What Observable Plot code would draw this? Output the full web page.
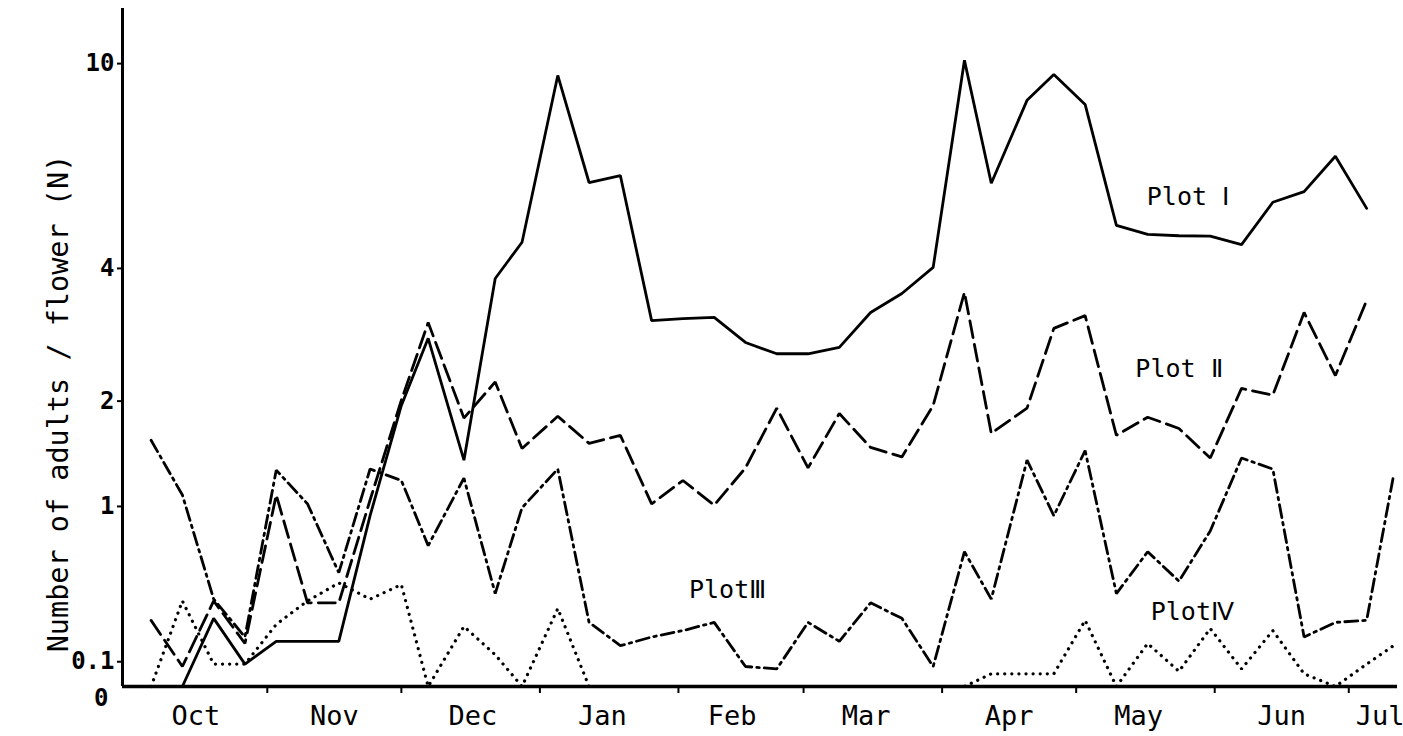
<!DOCTYPE html>
<html>
<head>
<meta charset="utf-8">
<script src="https://cdn.jsdelivr.net/npm/d3@7"></script>
<script src="https://cdn.jsdelivr.net/npm/@observablehq/plot@0.6"></script>
<style>
  html, body { margin: 0; padding: 0; background: #fff; }
  #chart { width: 1403px; height: 736px; overflow: hidden; }
</style>
</head>
<body>
<div id="chart"></div>
<script>
// Sampling days (days counted from 1 October), one per weekly census
const sampleDays = [5,12,19,26,33,40,47,54,61,67,75,82,88,96,103,110,117,124,131,138,145,152,159,166,173,180,187,193,201,207,214,221,228,235,242,249,256,263,270,277,283];

// Number of adults per flower (N) for each plot, aligned with sampleDays (null = no sample)
const plotI = [null,0,0.30,0.09,0.19,0.19,0.19,0.93,1.95,2.82,1.39,3.81,4.53,9.51,5.96,6.15,3.09,3.12,3.14,2.76,2.60,2.60,2.69,3.22,3.54,4.02,10.14,5.94,8.55,9.55,8.40,4.90,4.70,4.67,4.66,4.48,5.45,5.72,6.70,5.30,null];
const plotII = [0.29,0.08,0.39,0.18,1.09,0.38,0.38,1.05,2.01,3.06,1.81,2.23,1.50,1.83,1.55,1.63,1.02,1.21,1.01,1.32,1.92,1.32,1.86,1.51,1.42,1.95,3.56,1.65,1.92,2.97,3.17,1.63,1.82,1.70,1.41,2.15,2.07,3.22,2.31,3.42,null];
const plotIII = [1.58,1.09,0.40,0.21,1.30,1.02,0.55,1.31,1.21,0.72,1.23,0.43,0.99,1.31,0.28,0.17,0.21,0.24,0.28,0.08,0.07,0.28,0.19,0.38,0.30,0.08,0.68,0.40,1.39,0.93,1.48,0.43,0.68,0.50,0.82,1.41,1.31,0.21,0.28,0.29,1.25];
const plotIV = [0,0.39,0.09,0.09,0.27,0.39,0.49,0.40,0.48,0,0.26,0.13,0,0.35,0,0,0,0,0,0,0,0,0,0,0,0,0,0.05,0.05,0.05,0.29,0,0.18,0.06,0.25,0.07,0.24,0.05,0,0.09,0.17];

// Series labels placed on the chart
const labelNames = ["Plot Ⅰ", "Plot Ⅱ", "PlotⅢ", "PlotⅣ"];
const labelDays = [237, 235, 134, 238];
const labelValues = [5.57, 2.40, 0.45, 0.33];

// Axes
const yTicks = [0.1, 1, 2, 4, 10];
const yZeroTick = [0];
const monthStartDays = [31, 61, 92, 123, 151, 182, 212, 243, 273];
const monthNames = ["Oct", "Nov", "Dec", "Jan", "Feb", "Mar", "Apr", "May", "Jun", "Jul"];
const monthLabelDays = [15, 46, 77, 106, 135, 165, 197, 226, 258, 280];
const xDomain = [-1.4, 283.9];
const yDomain = [0, 12.6];
const yLabel = "Number of adults / flower (N)";

const rows = (vals) => sampleDays.map((day, i) => ({day, n: vals[i]}));
const monthByDay = new Map(monthLabelDays.map((d, i) => [d, monthNames[i]]));
const labels = labelNames.map((name, i) => ({name, day: labelDays[i], n: labelValues[i]}));

const mono = "'DejaVu Sans Mono', 'Liberation Mono', monospace";
const lineOpts = {x: "day", y: "n", stroke: "black", strokeWidth: 2.8, strokeLinejoin: "miter"};

const chart = Plot.plot({
  width: 1403,
  height: 736,
  marginLeft: 122,
  marginRight: 6,
  marginTop: 8,
  marginBottom: 50,
  style: {fontFamily: mono, fontSize: "26px", color: "black", background: "white", overflow: "visible"},
  x: {type: "linear", domain: xDomain, axis: null, label: null},
  y: {type: "symlog", constant: 1, domain: yDomain, axis: null, label: null},
  marks: [
    Plot.line(rows(plotIV), {...lineOpts, strokeWidth: 3.2, strokeDasharray: "0.1,7", strokeLinecap: "round"}),
    Plot.line(rows(plotIII), {...lineOpts, strokeDasharray: "13,5,2.5,5"}),
    Plot.line(rows(plotII), {...lineOpts, strokeDasharray: "17,7"}),
    Plot.line(rows(plotI), lineOpts),
    Plot.ruleX([xDomain[0]], {stroke: "black", strokeWidth: 3}),
    Plot.ruleY([0], {stroke: "black", strokeWidth: 3.4}),
    Plot.axisY({ticks: yTicks, tickSize: 5, tickPadding: 3, strokeWidth: 2, fontSize: 24, fontWeight: "bold", tickFormat: d => String(d), label: null}),
    Plot.axisY({ticks: yZeroTick, tickSize: 0, tickPadding: 14, dy: 12, fontSize: 24, fontWeight: "bold", tickFormat: d => String(d), label: null}),
    Plot.axisX({ticks: monthStartDays, tickSize: 7, strokeWidth: 2, tickFormat: () => "", label: null}),
    Plot.axisX({ticks: monthLabelDays, tickSize: 0, tickPadding: 19, fontSize: 27, tickFormat: d => monthByDay.get(d), label: null}),
    Plot.text(labels, {x: "day", y: "n", text: "name", fontSize: 25, fill: "black"}),
    Plot.text([yLabel], {text: d => d, frameAnchor: "left", textAnchor: "middle", rotate: -90, dx: -64, dy: 56, fontSize: 28.5, fill: "black"})
  ]
});
document.getElementById("chart").appendChild(chart);
</script>
</body>
</html>
